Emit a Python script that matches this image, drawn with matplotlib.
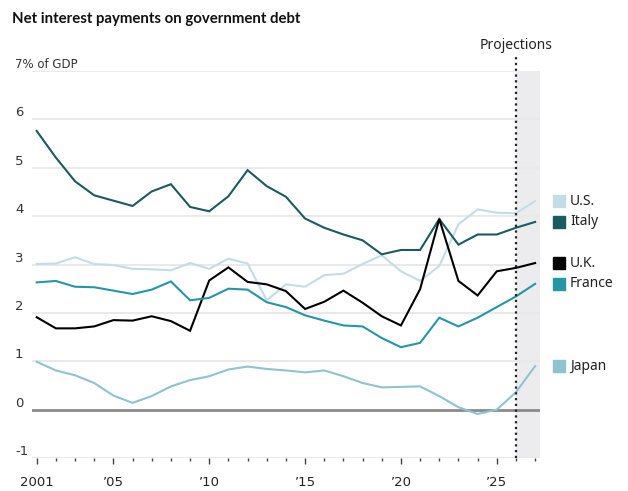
import matplotlib
matplotlib.use("Agg")
import matplotlib.pyplot as plt
import matplotlib.transforms as mtransforms
import numpy as np

years = list(range(2001, 2028))

us = [3.01, 3.02, 3.15, 3.01, 2.99, 2.91, 2.90, 2.88, 3.03, 2.91, 3.12, 3.02, 2.26, 2.59,
      2.54, 2.78, 2.81, 3.01, 3.19, 2.86, 2.66, 2.97, 3.83, 4.14, 4.07, 4.06, 4.31]
italy = [5.76, 5.21, 4.72, 4.43, 4.32, 4.21, 4.51, 4.66, 4.19, 4.10, 4.41, 4.95, 4.62, 4.40,
         3.95, 3.76, 3.62, 3.50, 3.21, 3.30, 3.30, 3.94, 3.41, 3.62, 3.62, 3.76, 3.88]
uk = [1.91, 1.68, 1.68, 1.72, 1.85, 1.84, 1.93, 1.83, 1.63, 2.67, 2.94, 2.64, 2.59, 2.45,
      2.08, 2.23, 2.46, 2.21, 1.93, 1.74, 2.49, 3.94, 2.66, 2.36, 2.86, 2.93, 3.03]
france = [2.63, 2.66, 2.54, 2.53, 2.46, 2.39, 2.48, 2.65, 2.26, 2.31, 2.50, 2.48, 2.22, 2.12,
          1.95, 1.84, 1.74, 1.72, 1.48, 1.29, 1.38, 1.90, 1.72, 1.90, 2.12, 2.34, 2.60]
japan = [0.99, 0.81, 0.71, 0.55, 0.29, 0.14, 0.28, 0.48, 0.61, 0.69, 0.83, 0.89, 0.84, 0.81,
         0.77, 0.81, 0.69, 0.55, 0.46, 0.47, 0.48, 0.28, 0.05, -0.09, 0.00, 0.36, 0.90]

series_names = ["U.S.", "Italy", "U.K.", "France", "Japan"]
series_values = [us, italy, uk, france, japan]
series_colors = ["#c3dde6", "#1b5a60", "#000000", "#2596a6", "#8ec3cf"]
draw_order = [0, 4, 3, 2, 1]

ytick_vals = [-1, 0, 1, 2, 3, 4, 5, 6, 7]
ytick_labels = ["-1", "0", "1", "2", "3", "4", "5", "6", "7% of GDP"]
xtick_vals = [2001, 2005, 2010, 2015, 2020, 2025]
xtick_labels = ["2001", "\u201905", "\u201910", "\u201915", "\u201920", "\u201925"]
projection_start = 2026
title = "Net interest payments on government debt"

W, H = 628, 491
fig = plt.figure(figsize=(W / 100, H / 100), dpi=100)
fig.patch.set_facecolor("white")

left_px, right_px, top_px, bottom_px = 32, 540, 71, 458
ax = fig.add_axes([left_px / W, 1 - bottom_px / H,
                   (right_px - left_px) / W, (bottom_px - top_px) / H])
ax.set_facecolor("white")

x0 = 2001 + (left_px - 36.7) / 19.17
x1 = 2001 + (right_px - 36.7) / 19.17
ax.set_xlim(x0, x1)
ax.set_ylim(-1, 7)

for s in ax.spines.values():
    s.set_visible(False)

# shaded projection region
ax.axvspan(projection_start, x1, color="#ececee", zorder=0, lw=0)

# gridlines
for v in ytick_vals:
    if v == 0:
        ax.axhline(v, color="#8a8a8a", lw=2.0, zorder=1)
    else:
        ax.axhline(v, color="#e9e9e9", lw=1.5, zorder=0.5)

# lines
for i in draw_order:
    ax.plot(years, series_values[i], color=series_colors[i], lw=1.5,
            solid_joinstyle="miter", zorder=3 + i * 0.01)

# dotted projection line
ax.plot([projection_start, projection_start], [-1, 7.28], color="#222222", lw=1.6,
        ls=(0, (1, 1.6)), clip_on=False, zorder=5)

label_font = ["Liberation Sans Narrow", "DejaVu Sans"]
reg_font = ["Noto Sans", "DejaVu Sans"]

ax.text(projection_start, 7.52, "Projections", ha="center", va="center",
        fontsize=10, family=reg_font, color="#222222")

# y tick labels
ytrans = mtransforms.blended_transform_factory(ax.transAxes, ax.transData)
off = mtransforms.ScaledTranslation(0, 3 / 100, fig.dpi_scale_trans)
for v, lab in zip(ytick_vals, ytick_labels):
    ax.text((15 - left_px) / (right_px - left_px), v, lab, transform=ytrans + off,
            ha="left", va="baseline", fontsize=8.5 if "GDP" in lab else 9.5,
            family=label_font, color="#333333")
ax.set_yticks([])

# x ticks
ax.set_xticks(xtick_vals)
ax.set_xticklabels(xtick_labels, family=label_font, fontsize=9.5, color="#222222")
ax.set_xticks(years, minor=True)
ax.tick_params(axis="x", which="major", length=4, width=1, color="#444444", pad=9)
ax.tick_params(axis="x", which="minor", length=2, width=1, color="#444444")

# legend labels placed at each series' final value
for name, vals, col in zip(series_names, series_values, series_colors):
    y = vals[-1]
    ax.plot([(559 - left_px) / (right_px - left_px)], [y], marker="s", ms=8.5,
            color=col, transform=ytrans, clip_on=False, lw=0)
    ax.text((570 - left_px) / (right_px - left_px), y, name, transform=ytrans,
            ha="left", va="center", fontsize=10, family=reg_font, color="#222222")

fig.text(12 / W, 1 - 19 / H, title, ha="left", va="center", fontsize=10.8,
         fontweight="bold", family=["Lato", "DejaVu Sans"], color="#111111")

fig.savefig("out.png", dpi=100, facecolor="white")
